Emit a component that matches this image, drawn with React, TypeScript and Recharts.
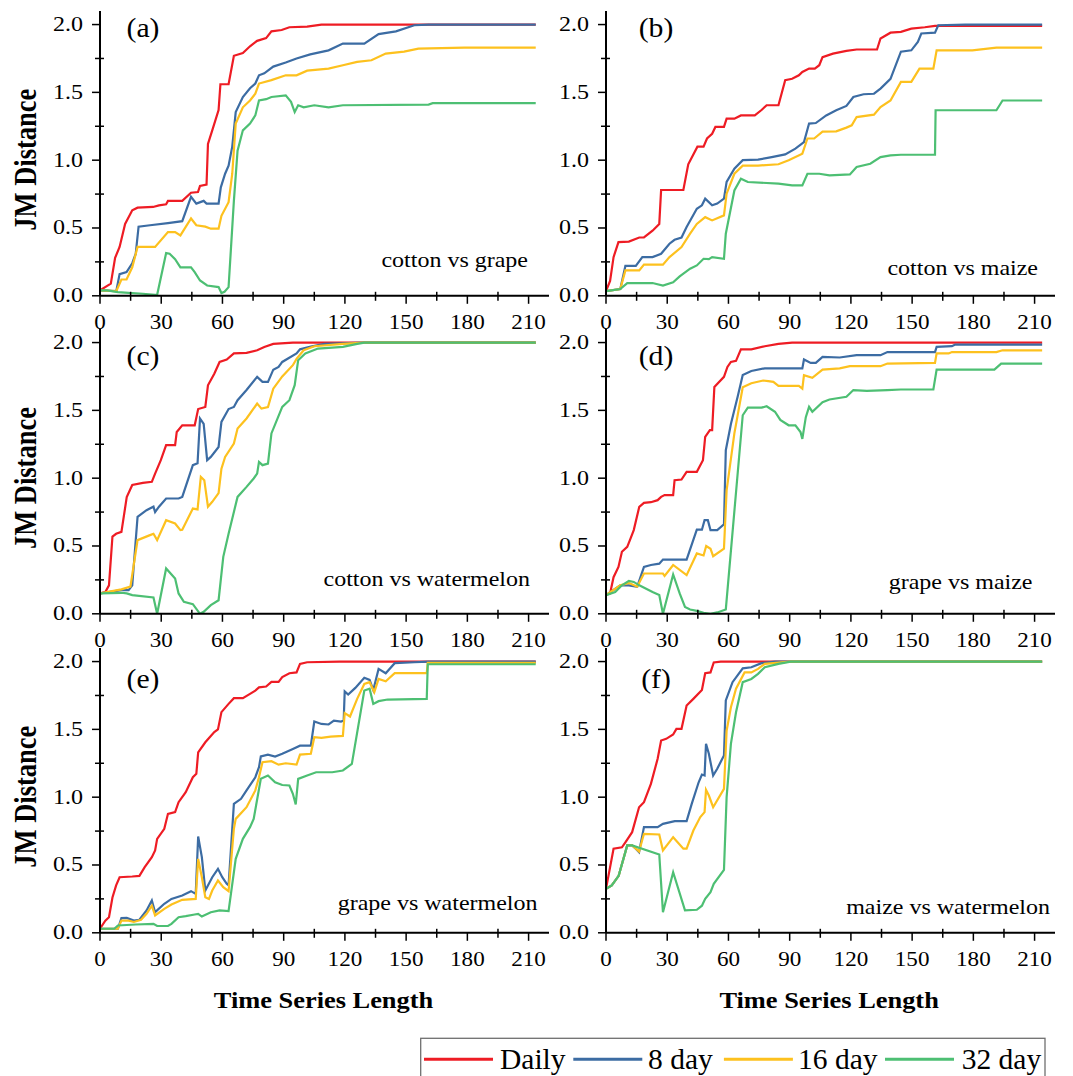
import React from 'react';
import { LineChart, Line, XAxis, YAxis } from 'recharts';

type P = [number, number][];

// ---------- (a) cotton vs grape ----------
const aDaily: P = [[0,0.04],[5.3,0.09],[7.4,0.28],[9.6,0.36],[12.3,0.53],[15.8,0.63],[18.4,0.65],[26,0.655],[28.9,0.667],[32.4,0.675],[33.3,0.7],[40.3,0.7],[44.6,0.76],[48,0.765],[49,0.81],[52.2,0.82],[52.9,1.12],[55,1.22],[58.1,1.37],[59,1.56],[63,1.56],[65.6,1.77],[70,1.79],[73.5,1.84],[77,1.88],[81.4,1.9],[84,1.95],[89,1.96],[92.8,1.98],[101.5,1.985],[108.5,2.0],[213.5,2.0]];
const a8: P = [[0,0.04],[8,0.035],[9.6,0.16],[13,0.175],[15.8,0.24],[17.5,0.31],[18.9,0.51],[24.5,0.52],[33.3,0.536],[40.3,0.55],[44.6,0.73],[47.2,0.68],[50.8,0.7],[52.2,0.68],[58.1,0.68],[59.2,0.8],[61.3,0.9],[63,0.96],[64.8,1.1],[66.5,1.355],[70,1.466],[73.5,1.53],[76.1,1.565],[77.9,1.626],[80.5,1.64],[84.9,1.69],[91,1.72],[96.3,1.75],[103,1.78],[112,1.81],[119,1.86],[129.5,1.86],[136.5,1.93],[145,1.95],[154,1.995],[161,2.0],[213.5,2.0]];
const a16: P = [[0,0.04],[8,0.035],[10.5,0.12],[13,0.12],[15.8,0.21],[18.4,0.36],[27,0.36],[33.3,0.47],[36.8,0.47],[39.4,0.445],[44.6,0.57],[47.2,0.52],[51.6,0.51],[54.3,0.495],[58.1,0.495],[59.5,0.59],[63,0.69],[64.8,0.9],[66.5,1.27],[70,1.39],[73.5,1.44],[76.1,1.49],[77.9,1.565],[84,1.59],[91,1.626],[96.3,1.626],[101.5,1.66],[112,1.675],[119,1.7],[126,1.725],[133,1.737],[140,1.786],[149,1.8],[156,1.823],[178.5,1.83],[213.5,1.83]];
const a32: P = [[0,0.04],[3.5,0.04],[8.75,0.027],[14,0.022],[21,0.015],[27,0.007],[28,0.007],[32.4,0.315],[34.1,0.31],[36.8,0.27],[39.4,0.21],[44.6,0.21],[46.4,0.175],[49,0.113],[52.5,0.076],[58.1,0.064],[59.5,0.02],[61,0.03],[63,0.064],[65.6,0.7],[67.4,1.07],[70,1.22],[73.5,1.27],[76.1,1.33],[77.9,1.44],[81.4,1.45],[84,1.466],[91,1.478],[93.6,1.43],[95.4,1.355],[97.1,1.405],[99.8,1.39],[105,1.405],[112,1.39],[119,1.405],[161,1.41],[163,1.42],[213.5,1.42]];

// ---------- (b) cotton vs maize ----------
const bDaily: P = [[0,0.035],[2,0.11],[3.7,0.285],[6.1,0.396],[11.2,0.4],[16.3,0.43],[18.6,0.43],[22.8,0.48],[26.1,0.53],[27,0.78],[37.9,0.78],[40.3,0.97],[44.8,1.1],[47.8,1.1],[49.5,1.16],[52,1.195],[53.6,1.245],[57.8,1.245],[59.1,1.306],[62.9,1.306],[66.1,1.33],[72.9,1.33],[76.2,1.37],[78.7,1.405],[84.5,1.405],[87.8,1.59],[91.2,1.6],[94.5,1.626],[96.2,1.65],[99.5,1.675],[102.3,1.675],[104.5,1.7],[106.1,1.76],[111.2,1.786],[117.8,1.806],[122.8,1.816],[132.8,1.816],[134.5,1.897],[139.4,1.94],[144.5,1.946],[149.6,1.97],[156.2,1.98],[161.2,1.99],[213.7,1.99]];
const b8: P = [[0,0.035],[7,0.05],[9.5,0.22],[14.6,0.22],[17.8,0.285],[22.8,0.285],[27,0.31],[31.1,0.384],[33.6,0.413],[37,0.43],[39.5,0.507],[44.5,0.642],[47,0.667],[48.6,0.716],[52,0.667],[54.5,0.68],[57.8,0.716],[59.1,0.84],[62.9,0.937],[67,1.0],[74.5,1.004],[81.2,1.023],[87.8,1.043],[92.8,1.085],[97,1.134],[99.5,1.27],[102.8,1.274],[107.9,1.33],[112.8,1.368],[117.8,1.4],[121.2,1.466],[126.2,1.486],[131.3,1.49],[134.5,1.528],[139.4,1.6],[144.5,1.8],[149.6,1.81],[152.8,1.872],[154.5,1.934],[161.2,1.94],[162.8,1.995],[176,2.0],[213.7,2.0]];
const b16: P = [[0,0.035],[7,0.05],[9.5,0.187],[16.3,0.187],[18.6,0.23],[27.9,0.23],[31.1,0.285],[37,0.36],[41.2,0.458],[44.5,0.53],[48.6,0.58],[52,0.556],[57.8,0.593],[59.1,0.753],[62.9,0.9],[67,0.96],[74.5,0.96],[84.5,0.97],[89.5,1.0],[96.2,1.048],[98.7,1.16],[102,1.16],[106.1,1.21],[112.8,1.213],[117.8,1.24],[120.4,1.257],[122.8,1.318],[131.3,1.336],[134.5,1.392],[139.4,1.44],[144.5,1.577],[149.6,1.577],[153.6,1.675],[160.4,1.675],[162,1.81],[179.5,1.81],[191.3,1.83],[213.7,1.83]];
const b32: P = [[0,0.035],[7,0.05],[10.4,0.094],[22.8,0.094],[27.9,0.076],[32.9,0.1],[36.1,0.143],[41.2,0.2],[44.5,0.224],[47.8,0.273],[50.4,0.27],[52,0.285],[57.8,0.273],[58.7,0.458],[62.9,0.777],[66.1,0.863],[69.5,0.839],[84.5,0.827],[91.2,0.814],[96.2,0.814],[98.7,0.9],[104.5,0.9],[109.5,0.888],[119.5,0.895],[122.8,0.95],[129.5,0.974],[134.5,1.023],[139.4,1.036],[144.5,1.04],[161.2,1.04],[161.5,1.368],[191.3,1.368],[194.3,1.44],[213.7,1.44]];

// ---------- (c) cotton vs watermelon ----------
const cDaily: P = [[0,0.15],[2.6,0.16],[4.4,0.21],[6.1,0.57],[7.9,0.59],[10.5,0.604],[13.1,0.86],[15.8,0.95],[21,0.965],[25.4,0.973],[27,1.034],[29.8,1.133],[32.4,1.243],[36.8,1.243],[37.6,1.341],[40.3,1.39],[46.4,1.39],[48.1,1.51],[51.6,1.525],[52.9,1.685],[56,1.77],[58.6,1.857],[62.1,1.875],[65.6,1.92],[71.8,1.924],[77,1.943],[80.5,1.968],[84.9,1.99],[94.5,2.0],[213.5,2.0]];
const c8: P = [[0,0.15],[10.5,0.175],[14,0.175],[15.8,0.21],[18.4,0.715],[22.8,0.764],[26.2,0.79],[27,0.75],[28.9,0.79],[32.4,0.85],[38.5,0.85],[40.3,0.862],[45.5,1.096],[47.8,1.11],[49,1.44],[50.8,1.4],[52.5,1.133],[54.3,1.157],[58.1,1.23],[59.5,1.415],[63,1.51],[65.6,1.525],[67.4,1.575],[71.8,1.65],[77,1.747],[79.6,1.71],[82.3,1.71],[84.9,1.8],[87.5,1.82],[89.3,1.857],[96.3,1.92],[98,1.95],[103.3,1.97],[110,1.99],[129.5,2.0],[213.5,2.0]];
const c16: P = [[0,0.15],[10.5,0.18],[14.9,0.2],[18.4,0.543],[24.5,0.58],[26.2,0.59],[28,0.543],[32.4,0.69],[36.8,0.666],[39.4,0.617],[40.3,0.62],[45.5,0.776],[47.8,0.77],[49.4,1.01],[51.1,0.985],[52.9,0.79],[55,0.826],[58.1,0.89],[59.5,1.07],[61.3,1.157],[65.6,1.255],[67.4,1.366],[71.8,1.44],[77,1.55],[79.1,1.513],[82.3,1.525],[84.9,1.66],[89.3,1.75],[94.5,1.833],[96.3,1.88],[99.8,1.943],[105,1.973],[119,1.99],[129.5,2.0],[213.5,2.0]];
const c32: P = [[0,0.15],[10.5,0.155],[13.1,0.15],[15.8,0.138],[26.2,0.12],[28,0.0],[32.4,0.334],[36.8,0.26],[38.5,0.15],[41.1,0.088],[45.5,0.071],[49,0.0],[50.8,0.015],[54.3,0.064],[58.1,0.1],[60.4,0.42],[63,0.59],[67.4,0.862],[71.8,0.936],[75.3,0.998],[77,1.034],[77.9,1.12],[79.6,1.096],[82.3,1.108],[84,1.33],[89.3,1.526],[92.8,1.575],[95.4,1.686],[97.1,1.87],[100.6,1.92],[106.8,1.956],[119,1.968],[126,1.99],[129.5,2.0],[213.5,2.0]];

// ---------- (d) grape vs maize ----------
const dDaily: P = [[0,0.138],[2,0.15],[3.7,0.27],[6.1,0.346],[7.8,0.457],[10.4,0.494],[12,0.555],[13.6,0.617],[16.3,0.789],[18.6,0.818],[22,0.823],[25.3,0.838],[27,0.862],[28.7,0.875],[32.9,0.875],[33.6,0.985],[37,0.99],[39.5,1.047],[44.5,1.047],[47.5,1.133],[48.6,1.305],[50.9,1.354],[52,1.354],[53.1,1.673],[57.8,1.747],[59.5,1.82],[61.2,1.857],[63.7,1.865],[66.1,1.95],[71.2,1.95],[77.8,1.973],[84.5,1.99],[91.2,2.0],[213.7,2.0]];
const d8: P = [[0,0.138],[7,0.21],[11.2,0.21],[15.3,0.2],[18.6,0.346],[22,0.36],[26.1,0.37],[27.9,0.4],[39.5,0.4],[44.5,0.62],[47,0.62],[48.3,0.69],[49.9,0.69],[51.2,0.617],[54.5,0.617],[57.8,0.66],[58.7,1.206],[61.2,1.4],[64.5,1.6],[67,1.76],[71.2,1.79],[77.8,1.81],[96.2,1.81],[97,1.875],[100.3,1.85],[102.8,1.85],[106.1,1.894],[114.5,1.89],[122.8,1.907],[134.5,1.907],[137.9,1.93],[161.2,1.93],[162,1.968],[169.5,1.973],[171.1,1.985],[213.7,1.985]];
const d16: P = [[0,0.138],[7,0.21],[11.2,0.228],[15.3,0.2],[18.6,0.297],[27.9,0.297],[28.7,0.28],[32.9,0.36],[39.5,0.285],[44.5,0.445],[47.8,0.43],[49.1,0.5],[51.2,0.48],[52.5,0.425],[57.8,0.48],[59.1,0.91],[62.9,1.33],[67,1.67],[71.2,1.7],[77,1.72],[79.5,1.715],[82,1.71],[84.5,1.68],[94.5,1.68],[96.2,1.66],[97,1.76],[101.1,1.74],[106.1,1.8],[114.5,1.81],[119.5,1.826],[134.5,1.826],[137.9,1.845],[161.2,1.85],[162,1.92],[167.9,1.92],[169.5,1.93],[191.3,1.93],[194.3,1.943],[213.7,1.943]];
const d32: P = [[0,0.138],[4.5,0.16],[7.8,0.21],[11.2,0.243],[13.6,0.235],[16.3,0.21],[22.8,0.16],[26.1,0.138],[27.9,0.0],[32.9,0.29],[36.1,0.15],[38.7,0.05],[41.2,0.032],[44.5,0.022],[47.8,0.007],[51.2,0.0],[54.5,0.01],[58.7,0.032],[67,1.464],[69.5,1.52],[76.2,1.52],[78.7,1.53],[82.8,1.49],[85.4,1.43],[89.5,1.39],[92.8,1.39],[95.3,1.34],[96.2,1.29],[97.9,1.45],[99.5,1.526],[101.1,1.49],[106.1,1.56],[109.5,1.58],[117.8,1.6],[121.2,1.65],[127.8,1.644],[137.9,1.65],[144.5,1.654],[160.4,1.654],[162,1.8],[190.3,1.8],[193.6,1.845],[213.7,1.845]];

// ---------- (e) grape vs watermelon ----------
const eDaily: P = [[0,0.03],[2.6,0.09],[4.4,0.115],[6.1,0.26],[7.9,0.35],[9.6,0.41],[15.8,0.415],[19.3,0.42],[21.9,0.484],[25.4,0.557],[27,0.607],[28,0.693],[31.5,0.767],[33.3,0.877],[36.8,0.89],[38.5,0.963],[42,1.037],[45.5,1.147],[47.2,1.172],[48.1,1.33],[51.6,1.405],[56,1.48],[57.8,1.5],[59.5,1.627],[63,1.688],[65.6,1.73],[70,1.73],[73.5,1.762],[76.1,1.786],[77.9,1.81],[81.4,1.816],[84,1.85],[87.5,1.85],[89.3,1.885],[92.8,1.914],[96.3,1.92],[98,1.983],[101.5,1.995],[117.3,2.0],[213.5,2.0]];
const e8: P = [[0,0.03],[8.75,0.03],[10.5,0.108],[13.1,0.11],[16.6,0.09],[19.3,0.096],[22.8,0.165],[25.4,0.238],[27,0.152],[31.5,0.214],[35,0.25],[40.3,0.275],[44.6,0.307],[46.9,0.287],[48.1,0.71],[49.9,0.558],[51.6,0.312],[55,0.41],[57.8,0.472],[59.9,0.41],[62.1,0.361],[63,0.35],[65.6,0.95],[69.1,0.988],[71.8,1.05],[76.1,1.147],[77.9,1.221],[78.8,1.3],[82.3,1.314],[85.8,1.3],[89.3,1.32],[94.5,1.356],[98,1.38],[103.3,1.38],[105,1.558],[108.5,1.54],[112,1.536],[114.6,1.565],[118.1,1.558],[119.4,1.565],[119.9,1.78],[121.6,1.757],[125.1,1.806],[129.5,1.88],[132.1,1.865],[133.9,1.79],[136.5,1.946],[140,1.914],[144.4,1.988],[154,1.995],[161,2.0],[213.5,2.0]];
const e16: P = [[0,0.03],[8.75,0.03],[10.5,0.09],[14,0.09],[16.6,0.08],[20.1,0.096],[22.8,0.14],[25.4,0.2],[27,0.128],[31.5,0.177],[35,0.209],[40.3,0.243],[46.9,0.25],[48.1,0.545],[49.9,0.41],[51.6,0.263],[53.4,0.25],[55,0.312],[57.8,0.386],[60.4,0.337],[63,0.307],[65.6,0.767],[66.5,0.84],[71.8,0.926],[76.1,1.05],[77.9,1.147],[79.6,1.258],[84,1.265],[87.5,1.24],[91,1.25],[96.3,1.24],[98,1.314],[103.3,1.32],[105,1.442],[108.5,1.437],[113,1.447],[119,1.452],[119.9,1.62],[122.5,1.595],[126,1.725],[129.5,1.835],[132.1,1.848],[134.4,1.774],[136.5,1.872],[140,1.855],[144.4,1.914],[160.1,1.914],[160.6,1.99],[213.5,1.99]];
const e32: P = [[0,0.03],[7,0.03],[8.75,0.054],[17.5,0.061],[26.2,0.066],[28,0.05],[33.3,0.05],[35,0.066],[38.5,0.115],[42,0.123],[46.4,0.135],[48.1,0.14],[49.9,0.12],[54.3,0.152],[58.6,0.165],[63,0.16],[66.5,0.545],[70,0.693],[73.5,0.779],[75.3,0.84],[78.8,1.135],[82.3,1.16],[85.8,1.11],[89.3,1.09],[92.8,1.086],[94.5,1.025],[95.9,0.946],[97.1,1.135],[101.5,1.16],[105.9,1.184],[113.8,1.184],[119,1.197],[123.4,1.246],[129.5,1.786],[132.1,1.8],[133.9,1.688],[136.5,1.708],[140.9,1.72],[160.1,1.725],[160.6,1.98],[213.5,1.98]];

// ---------- (f) maize vs watermelon ----------
const fDaily: P = [[0,0.324],[3.7,0.62],[7.8,0.63],[9.5,0.667],[12.8,0.742],[16.2,0.926],[18.6,0.963],[22,1.098],[25.3,1.283],[27,1.418],[29.5,1.43],[32.9,1.462],[34.5,1.504],[37,1.504],[39.5,1.676],[42.8,1.725],[47,1.79],[48.6,1.914],[51.2,1.92],[52.8,1.993],[56.2,2.0],[213.7,2.0]];
const f8: P = [[0,0.324],[2.8,0.349],[6.2,0.42],[10.4,0.644],[12.8,0.644],[14.6,0.62],[16.2,0.595],[18.6,0.779],[25.3,0.779],[27.9,0.803],[33.7,0.823],[39.5,0.823],[42,0.951],[45.4,1.11],[47,1.167],[48.3,1.16],[49,1.393],[50.4,1.32],[52.5,1.16],[54.5,1.21],[57.8,1.307],[58.7,1.713],[62,1.848],[67,1.95],[71.2,1.958],[76.2,1.988],[82.8,2.0],[213.7,2.0]];
const f16: P = [[0,0.324],[2.8,0.349],[6.2,0.42],[10.4,0.644],[12.8,0.644],[16.2,0.6],[18.6,0.73],[26.1,0.725],[27.9,0.607],[32.9,0.705],[37.9,0.62],[39.5,0.62],[42.8,0.754],[46.2,0.853],[48.3,0.89],[49,1.054],[50.4,1.012],[52.5,0.926],[57.8,1.061],[59.1,1.49],[61.2,1.663],[63.7,1.8],[67.9,1.92],[71.2,1.92],[74.5,1.946],[77.8,1.983],[90.4,2.0],[213.7,2.0]];
const f32: P = [[0,0.324],[2.8,0.349],[6.2,0.42],[10.4,0.644],[12.8,0.644],[26.1,0.577],[27.9,0.152],[32.9,0.447],[38.7,0.165],[44.5,0.17],[47,0.2],[48.6,0.25],[51.2,0.3],[52.8,0.361],[57.8,0.464],[59.1,1.0],[61.2,1.393],[63.7,1.626],[67,1.848],[71.2,1.872],[74.5,1.909],[77.8,1.958],[84.5,1.983],[90.4,2.0],[213.7,2.0]];

const SERIES_NAMES = ['Daily', '8 day', '16 day', '32 day'];
const SERIES_COLORS = ['#EE1C24', '#3C6CA3', '#FDC11E', '#4DBF73'];
const PANEL_TAGS = ['(a)', '(b)', '(c)', '(d)', '(e)', '(f)'];
const PANEL_TITLES = ['cotton vs grape', 'cotton vs maize', 'cotton vs watermelon', 'grape vs maize', 'grape vs watermelon', 'maize vs watermelon'];
const X_TICKS = [0, 15, 30, 45, 60, 75, 90, 105, 120, 135, 150, 165, 180, 195, 210];
const Y_TICKS = [0, 0.25, 0.5, 0.75, 1, 1.25, 1.5, 1.75, 2];
const X_DOMAIN: [number, number] = [0, 220];
const Y_DOMAIN: [number, number] = [0, 2.1];
const Y_TITLE = 'JM Distance';
const X_TITLE = 'Time Series Length';

const PANELS: P[][] = [
  [aDaily, a8, a16, a32],
  [bDaily, b8, b16, b32],
  [cDaily, c8, c16, c32],
  [dDaily, d8, d16, d32],
  [eDaily, e8, e16, e32],
  [fDaily, f8, f16, f32],
];

const FONT = '"Liberation Serif", "Times New Roman", serif';

// layout
const PLOT_W = 449;
const PLOT_H = 284.8;
const ML = 60;
const MR = 10;
const MT = 10;
const XH = 40;
const COL_PLOT_LEFT = [100, 605.6];
const ROW_PLOT_BOTTOM = [295.3, 613.7, 932.3];

const toRows = (pts: P) => pts.map(([x, y]) => ({ x, y }));

function XTick(props: any) {
  const { x, y, payload } = props;
  const v = payload.value as number;
  const major = v % 30 === 0;
  return (
    <g>
      <line x1={x} x2={x} y1={major ? y : y - 4} y2={y + (major ? 8 : 5)} stroke="#000" strokeWidth={1.5} />
      {major && (
        <text transform={`translate(${x},${y + 33}) scale(1.1,1)`} textAnchor="middle" fontFamily={FONT} fontSize={21} fill="#000">
          {v}
        </text>
      )}
    </g>
  );
}

function YTick(props: any) {
  const { x, y, payload } = props;
  const v = payload.value as number;
  const major = Math.abs(v * 2 - Math.round(v * 2)) < 1e-6;
  return (
    <g>
      <line x1={major ? x - 8 : x - 5} x2={major ? x : x + 4} y1={y} y2={y} stroke="#000" strokeWidth={1.5} />
      {major && (
        <text transform={`translate(${x - 17},${y + 6.5}) scale(1.2,1)`} textAnchor="end" fontFamily={FONT} fontSize={20} fill="#000">
          {v.toFixed(1)}
        </text>
      )}
    </g>
  );
}

function Panel({ series, left, top }: { series: P[]; left: number; top: number }) {
  return (
    <div style={{ position: 'absolute', left, top }}>
      <LineChart width={ML + PLOT_W + MR} height={MT + PLOT_H + XH} margin={{ top: MT, right: MR, bottom: 0, left: 0 }}>
        <XAxis
          type="number"
          dataKey="x"
          domain={X_DOMAIN}
          ticks={X_TICKS}
          interval={0}
          tickSize={0}
          tickMargin={0}
          tickLine={false}
          axisLine={{ stroke: '#000', strokeWidth: 2 }}
          tick={<XTick />}
          height={XH}
          allowDataOverflow
        />
        <YAxis
          type="number"
          domain={Y_DOMAIN}
          ticks={Y_TICKS}
          interval={0}
          tickSize={0}
          tickMargin={0}
          tickLine={false}
          axisLine={{ stroke: '#000', strokeWidth: 2 }}
          tick={<YTick />}
          width={ML}
          allowDataOverflow
        />
        {series.map((s, i) => (
          <Line
            key={SERIES_NAMES[i]}
            name={SERIES_NAMES[i]}
            data={toRows(s)}
            dataKey="y"
            type="linear"
            stroke={SERIES_COLORS[i]}
            strokeWidth={2.2}
            dot={false}
            activeDot={false}
            isAnimationActive={false}
          />
        ))}
      </LineChart>
    </div>
  );
}

// text placement (overlay)
const TAG_X = [143, 656];
const TAG_BASE = [36.8, 365, 688];
const TITLE_POS: [number, number][] = [
  [528, 266.7], [1038, 275],
  [530, 586], [1032.5, 589],
  [537.5, 910], [1050, 914.3],
];
const LEGEND_ITEMS: { lx: number; tx: number }[] = [
  { lx: 424, tx: 500 },
  { lx: 573.3, tx: 648 },
  { lx: 723.9, tx: 798 },
  { lx: 885, tx: 961.7 },
];

export default function App() {
  return (
    <div style={{ position: 'absolute', left: 0, top: 0, width: 1073, height: 1076, overflow: 'hidden', background: '#fff' }}>
      {PANELS.map((series, i) => {
        const col = i % 2;
        const row = Math.floor(i / 2);
        const left = COL_PLOT_LEFT[col] - ML;
        const top = ROW_PLOT_BOTTOM[row] - PLOT_H - MT;
        return <Panel key={i} series={series} left={left} top={top} />;
      })}
      <svg width={1073} height={1076} style={{ position: 'absolute', left: 0, top: 0, pointerEvents: 'none' }}>
        {PANEL_TAGS.map((t, i) => (
          <text
            key={t}
            transform={`translate(${TAG_X[i % 2]},${TAG_BASE[Math.floor(i / 2)]}) scale(1.1,1)`}
            textAnchor="middle"
            fontFamily={FONT}
            fontSize={27}
            fill="#000"
          >
            {t}
          </text>
        ))}
        {PANEL_TITLES.map((t, i) => (
          <text
            key={t}
            transform={`translate(${TITLE_POS[i][0]},${TITLE_POS[i][1]}) scale(1.2,1)`}
            textAnchor="end"
            fontFamily={FONT}
            fontSize={20}
            fill="#000"
          >
            {t}
          </text>
        ))}
        {ROW_PLOT_BOTTOM.map((b, r) => (
          <text
            key={r}
            transform={`translate(35.6,${b - 135.6}) scale(1.2,1) rotate(-90)`}
            textAnchor="middle"
            fontFamily={FONT}
            fontSize={26.5}
            fontWeight="bold"
            fill="#000"
          >
            {Y_TITLE}
          </text>
        ))}
        {COL_PLOT_LEFT.map((l, c) => (
          <text
            key={c}
            transform={`translate(${l + PLOT_W / 2 - 1},1008) scale(1.1,1)`}
            textAnchor="middle"
            fontFamily={FONT}
            fontSize={24}
            fontWeight="bold"
            fill="#000"
          >
            {X_TITLE}
          </text>
        ))}
        <rect x={420.7} y={1038.3} width={624.3} height={60} fill="#fff" stroke="#6f6f6f" strokeWidth={1.3} />
        {LEGEND_ITEMS.map((it, i) => (
          <g key={SERIES_NAMES[i]}>
            <line x1={it.lx} x2={it.lx + 69} y1={1059.3} y2={1059.3} stroke={SERIES_COLORS[i]} strokeWidth={3} />
            <text x={it.tx} y={1068.5} fontFamily={FONT} fontSize={29.5} fill="#000">
              {SERIES_NAMES[i]}
            </text>
          </g>
        ))}
      </svg>
    </div>
  );
}
